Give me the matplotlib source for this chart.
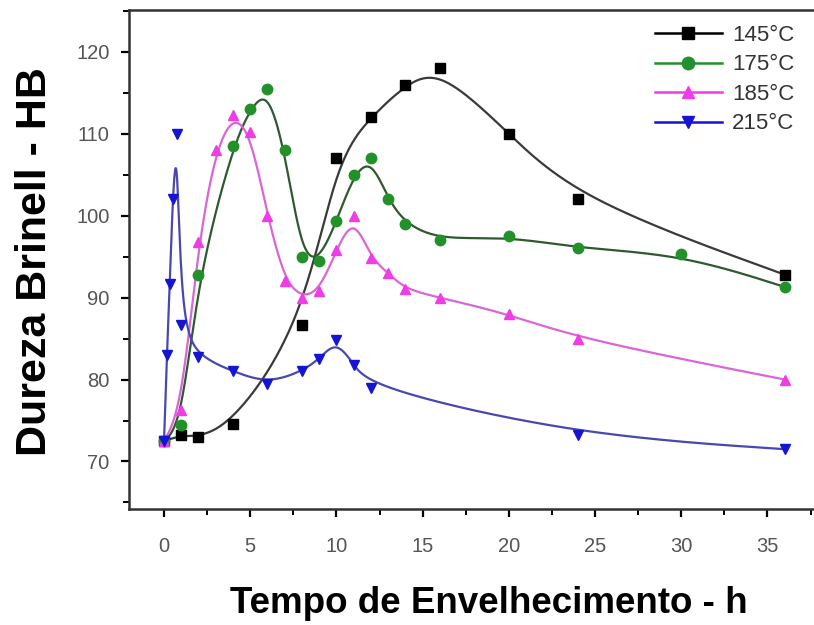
import matplotlib
matplotlib.use("Agg")
import matplotlib.pyplot as plt
import numpy as np
from matplotlib.ticker import MultipleLocator

plt.rcParams['font.family'] = ['Liberation Sans', 'DejaVu Sans']

# dados (tempo em h, dureza HB)
t_145 = [0, 1, 2, 4, 8, 10, 12, 14, 16, 20, 24, 36]
hb_145 = [72.5, 73.2, 73.0, 74.6, 86.6, 107.0, 112.0, 116.0, 118.0, 110.0, 102.0, 92.8]

t_175 = [0, 1, 2, 4, 5, 6, 7, 8, 9, 10, 11, 12, 13, 14, 16, 20, 24, 30, 36]
hb_175 = [72.5, 74.5, 92.8, 108.5, 113.0, 115.5, 108.0, 95.0, 94.5, 99.3, 105.0,
          107.0, 102.0, 99.0, 97.0, 97.5, 96.0, 95.3, 91.3]

t_185 = [0, 1, 2, 3, 4, 5, 6, 7, 8, 9, 10, 11, 12, 13, 14, 16, 20, 24, 36]
hb_185 = [72.5, 76.3, 96.8, 108.0, 112.3, 110.2, 100.0, 92.0, 90.0, 90.8, 95.8,
          100.0, 94.8, 93.0, 91.0, 90.0, 88.0, 85.0, 80.0]

t_215 = [0, 0.17, 0.33, 0.5, 0.75, 1, 2, 4, 6, 8, 9, 10, 11, 12, 24, 36]
hb_215 = [72.5, 83.0, 91.7, 102.0, 110.0, 86.6, 82.8, 81.0, 79.5, 81.0, 82.5,
          84.8, 81.8, 79.0, 73.2, 71.5]

labels = ['145°C', '175°C', '185°C', '215°C']


def bspline(x, y, n=40):
    # B-spline cúbica uniforme com extremos fixos (como o "B-Spline" do Origin)
    P = np.column_stack([x, y]).astype(float)
    P = np.vstack([P[0], P[0], P, P[-1], P[-1]])
    s = np.linspace(0, 1, n)
    b = [(1 - s) ** 3 / 6,
         (3 * s ** 3 - 6 * s ** 2 + 4) / 6,
         (-3 * s ** 3 + 3 * s ** 2 + 3 * s + 1) / 6,
         s ** 3 / 6]
    out = []
    for i in range(len(P) - 3):
        seg = sum(b[k][:, None] * P[i + k] for k in range(4))
        out.append(seg)
    out = np.vstack(out)
    return out[:, 0], out[:, 1]


fig = plt.figure(figsize=(8.14, 6.25), dpi=100)
ax = fig.add_axes([0.1585, 0.1856, 0.8415, 0.7984])

series = [
    (t_145, hb_145, 's', '#000000', '#3a3a3a'),
    (t_175, hb_175, 'o', '#23912a', '#2f5a30'),
    (t_185, hb_185, '^', '#f03ce6', '#d866d8'),
    (t_215, hb_215, 'v', '#1414d2', '#4848b0'),
]

for (tx, hy, mk, mc, lc), lab in zip(series, labels):
    xs, ys = bspline(tx, hy)
    ax.plot(xs, ys, color=lc, lw=1.6, zorder=2)
    ax.plot(tx, hy, ls='none', marker=mk, ms=7.5, color=mc, zorder=3)
    # entrada da legenda
    ax.plot([], [], color=mc, lw=1.8, marker=mk, ms=9, label=lab)

ax.set_xlim(-2.03, 37.7)
ax.set_ylim(64.2, 125.1)
ax.xaxis.set_major_locator(MultipleLocator(5))
ax.xaxis.set_minor_locator(MultipleLocator(2.5))
ax.yaxis.set_major_locator(MultipleLocator(10))
ax.yaxis.set_minor_locator(MultipleLocator(5))
ax.set_yticks(range(70, 121, 10))

ax.tick_params(which='major', direction='out', length=6, width=1.6,
               labelsize=14.5, labelcolor='#555555', pad=8)
ax.tick_params(axis='x', which='major', pad=14)
ax.tick_params(which='minor', direction='out', length=4, width=1.4)
ax.tick_params(top=False, right=False)

for sp in ['left', 'bottom', 'top']:
    ax.spines[sp].set_linewidth(1.8)
    ax.spines[sp].set_color('#333333')
ax.spines['right'].set_visible(False)

ax.set_xlabel('Tempo de Envelhecimento - h', fontsize=26.5, fontweight='bold',
              labelpad=22)
ax.set_ylabel('Dureza Brinell - HB', fontsize=31, fontweight='bold',
              labelpad=15)
ax.xaxis.label.set_x(0.525)
ax.yaxis.label.set_y(0.495)

leg = ax.legend(loc='upper right', frameon=False, fontsize=16,
                handlelength=3.0, handletextpad=0.45, labelspacing=0.38,
                bbox_to_anchor=(1.0, 1.01))
for txt in leg.get_texts():
    txt.set_color('#333333')

plt.savefig('out.png', dpi=100)
